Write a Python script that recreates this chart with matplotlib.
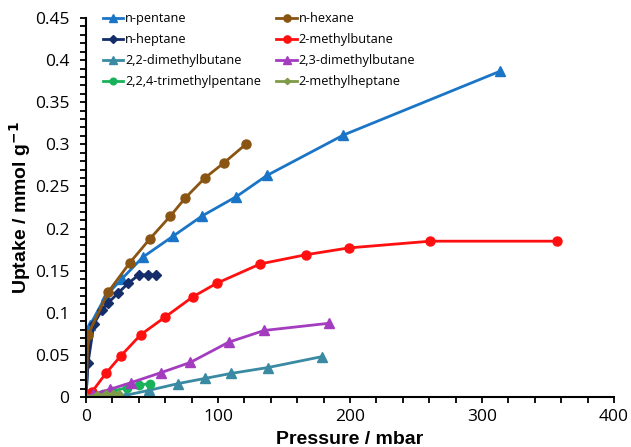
import matplotlib
matplotlib.use('Agg')
import matplotlib.pyplot as plt
from matplotlib.ticker import MultipleLocator, FuncFormatter

# uptake isotherms, pressure in mbar, uptake in mmol/g
pentane_p = [0, 3, 15, 27, 43, 66, 88, 114, 137, 195, 314]
pentane_q = [0, 0.085, 0.12, 0.14, 0.166, 0.191, 0.215, 0.238, 0.263, 0.311, 0.387]

hexane_p = [0, 1.5, 17, 33, 48.5, 64, 75, 90, 104.5, 121]
hexane_q = [0, 0.074, 0.125, 0.159, 0.188, 0.215, 0.236, 0.260, 0.278, 0.300]

heptane_p = [0, 1.5, 6, 12, 17, 24, 32, 40, 47, 53]
heptane_q = [0, 0.04, 0.087, 0.103, 0.112, 0.123, 0.135, 0.145, 0.145, 0.145]

mb2_p = [4.5, 15, 26.5, 41.5, 60, 81, 99, 132, 167, 199, 261, 357]
mb2_q = [0.006, 0.028, 0.049, 0.074, 0.095, 0.119, 0.135, 0.158, 0.169, 0.177, 0.185, 0.185]

dmb22_p = [0, 9, 30, 48, 70, 90, 110, 138, 179]
dmb22_q = [0, 0.0, 0.002, 0.008, 0.016, 0.022, 0.028, 0.035, 0.048]

dmb23_p = [0, 5, 18, 34, 57, 79, 108, 135, 184]
dmb23_q = [0, 0.003, 0.009, 0.017, 0.029, 0.041, 0.065, 0.079, 0.0875]

tmp224_p = [0, 5, 13, 20, 31, 40, 48.5]
tmp224_q = [0, 0.002, 0.004, 0.007, 0.011, 0.014, 0.016]

mh2_p = [0, 8, 15.5, 20.5, 25]
mh2_q = [0, 0.002, 0.003, 0.004, 0.004]

fig = plt.figure(figsize=(6.31, 4.47), dpi=100)
ax = fig.add_axes([0.1363, 0.1119, 0.8367, 0.8478])

lw = 2
# order so ncol=2 legend fills like the original (column-wise)
ax.plot(pentane_p, pentane_q, color='#1a75c6', marker='^', ms=7, lw=lw, label='n-pentane')
ax.plot(heptane_p, heptane_q, color='#142d6b', marker='D', ms=5, lw=lw, label='n-heptane')
ax.plot(dmb22_p, dmb22_q, color='#3a8aa3', marker='^', ms=7, lw=lw, label='2,2-dimethylbutane')
ax.plot(tmp224_p, tmp224_q, color='#19b25a', marker='o', ms=6, lw=lw, label='2,2,4-trimethylpentane')
ax.plot(hexane_p, hexane_q, color='#8a5512', marker='o', ms=6.5, lw=lw, label='n-hexane')
ax.plot(mb2_p, mb2_q, color='#ff1010', marker='o', ms=6.5, lw=lw, label='2-methylbutane')
ax.plot(dmb23_p, dmb23_q, color='#a43cc0', marker='^', ms=7, lw=lw, label='2,3-dimethylbutane')
ax.plot(mh2_p, mh2_q, color='#7f9a48', marker='D', ms=4, lw=lw, label='2-methylheptane')

ax.set_xlim(0, 400)
ax.set_ylim(0, 0.45)
ax.xaxis.set_major_locator(MultipleLocator(100))
ax.xaxis.set_minor_locator(MultipleLocator(20))
ax.yaxis.set_major_locator(MultipleLocator(0.05))
ax.yaxis.set_minor_locator(MultipleLocator(0.01))
ax.yaxis.set_major_formatter(FuncFormatter(lambda v, pos: ('%g' % round(v, 2))))

for s in ['top', 'right']:
    ax.spines[s].set_visible(False)
for s in ['left', 'bottom']:
    ax.spines[s].set_linewidth(1.5)

ax.tick_params(which='both', direction='out', length=4, width=1.3, labelsize=12.5)
for lab in ax.get_xticklabels() + ax.get_yticklabels():
    lab.set_family('Open Sans')
ax.tick_params(axis='y', pad=8)
ax.tick_params(axis='x', pad=5)

ax.set_xlabel('Pressure / mbar', fontsize=14, fontweight='bold', family='Liberation Sans', labelpad=4)
ax.set_ylabel('Uptake / mmol g$^{\\mathbf{-1}}$', fontsize=14, fontweight='bold', family='Liberation Sans', labelpad=1)

leg = ax.legend(ncol=2, loc='upper left', bbox_to_anchor=(0.01, 1.045), frameon=False,
                prop={'family': 'Open Sans', 'size': 9.2}, handlelength=1.6, handletextpad=0.15,
                columnspacing=1.2, labelspacing=0.62, markerscale=0.8)

fig.savefig('out.png', dpi=100)
